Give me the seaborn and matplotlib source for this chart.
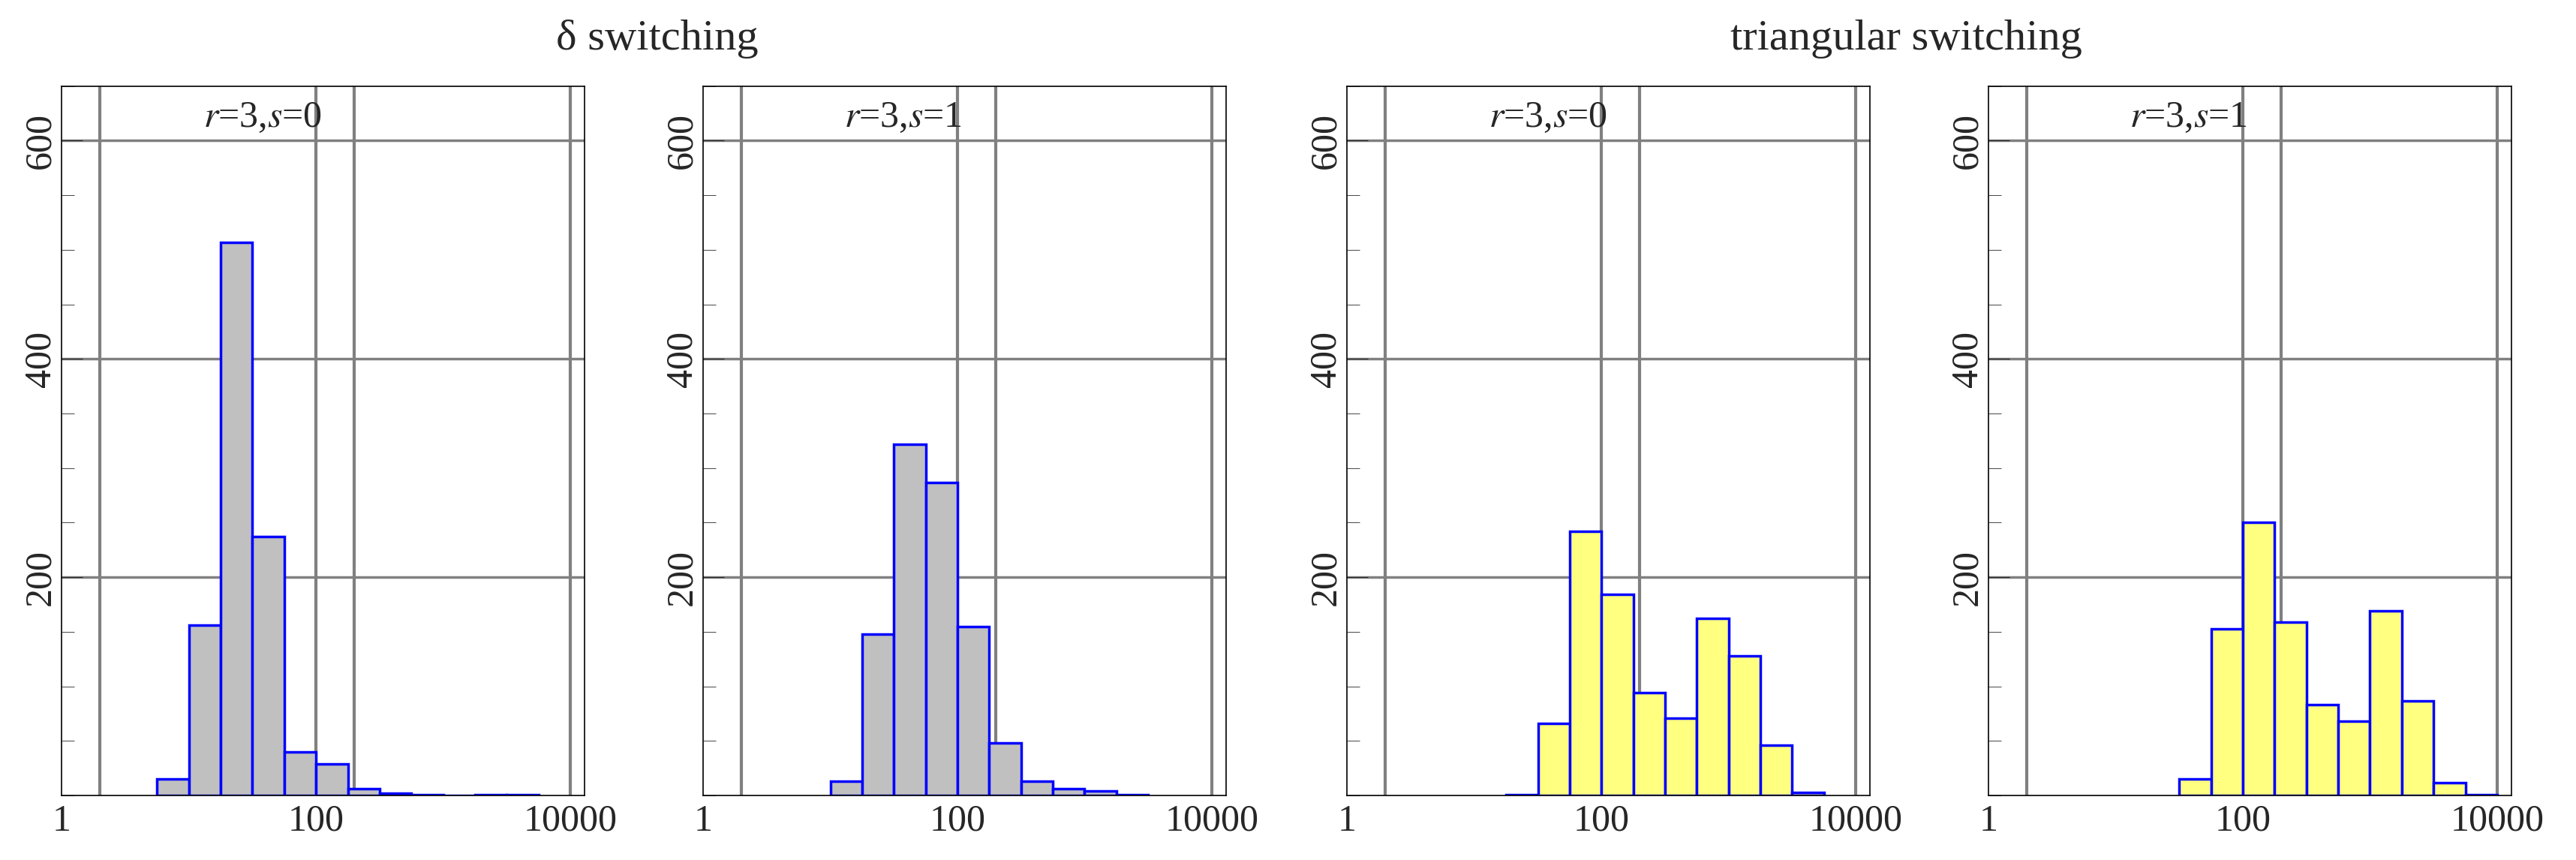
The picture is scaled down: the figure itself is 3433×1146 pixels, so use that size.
import numpy as np
import pandas as pd
import seaborn as sns
import matplotlib.pyplot as plt
from matplotlib.ticker import FixedLocator, MultipleLocator, NullLocator

# bin edges in log10 units, counts
edges_d0 = [0.75, 1.0, 1.25, 1.5, 1.75, 2.0, 2.25, 2.5, 2.75, 3.0, 3.25, 3.5, 3.75]
counts_d0 = [15, 156, 507, 237, 40, 29, 6, 2, 1, 0, 1, 1]

edges_d1 = [1.0, 1.25, 1.5, 1.75, 2.0, 2.25, 2.5, 2.75, 3.0, 3.25, 3.5]
counts_d1 = [13, 148, 322, 287, 155, 48, 13, 6, 4, 1]

edges_t0 = [1.25, 1.5, 1.75, 2.0, 2.25, 2.5, 2.75, 3.0, 3.25, 3.5, 3.75]
counts_t0 = [1, 66, 242, 184, 94, 71, 162, 128, 46, 3]

edges_t1 = [1.5, 1.75, 2.0, 2.25, 2.5, 2.75, 3.0, 3.25, 3.5, 3.75, 4.0]
counts_t1 = [15, 153, 250, 159, 83, 68, 169, 87, 12, 1]

s_values = ["0", "1", "0", "1"]
panels = [(edges_d0, counts_d0, "#c0c0c0"), (edges_d1, counts_d1, "#c0c0c0"),
          (edges_t0, counts_t0, "#ffff80"), (edges_t1, counts_t1, "#ffff80")]

sns.set_style("white")
plt.rcParams['font.family'] = ['Liberation Serif', 'DejaVu Serif']
plt.rcParams['mathtext.fontset'] = 'stix'

fig = plt.figure(figsize=(34.33, 11.46), dpi=100)
lefts = [0.024, 0.273, 0.523, 0.772]

for i, (edges, counts, col) in enumerate(panels):
    ax = fig.add_axes([lefts[i], 0.075, 0.203, 0.825])
    e = 10 ** np.array(edges)
    df = pd.DataFrame({"t": np.sqrt(e[:-1] * e[1:]), "n": counts})
    sns.histplot(data=df, x="t", weights="n", bins=list(e), ax=ax, color=col,
                 edgecolor="blue", linewidth=2.5, alpha=1)
    ax.set_xscale("log")
    ax.set_xlim(1, 13000)
    ax.set_ylim(0, 650)
    ax.xaxis.set_major_locator(FixedLocator([1, 100, 10000]))
    ax.xaxis.set_minor_locator(NullLocator())
    ax.set_xticklabels(["1", "100", "10000"])
    ax.yaxis.set_major_locator(FixedLocator([200, 400, 600]))
    ax.yaxis.set_minor_locator(MultipleLocator(50))
    for v in [2, 100, 200, 10000]:
        ax.axvline(v, color="gray", lw=3, zorder=0)
    for v in [200, 400, 600]:
        ax.axhline(v, color="gray", lw=2.5, zorder=0)
    ax.tick_params(axis="y", which="major", direction="in", length=20, labelsize=36,
                   labelrotation=90, left=True)
    ax.tick_params(axis="y", which="minor", direction="in", length=12, left=True)
    ax.tick_params(axis="x", labelsize=36, length=0, pad=8)
    for lab in ax.get_yticklabels():
        lab.set_va("center")
    ax.set_xlabel("")
    ax.set_ylabel("")
    for sp in ax.spines.values():
        sp.set_color("black")
        sp.set_linewidth(1.2)
    ax.text(0.27, 0.955, r"$r$=3,$s$=" + s_values[i], transform=ax.transAxes,
            fontsize=36, va="center", ha="left")

fig.text(0.255, 0.955, "δ switching", fontsize=42, ha="center", va="center")
fig.text(0.74, 0.955, "triangular switching", fontsize=42, ha="center", va="center")

fig.savefig("out.png", dpi=100)
